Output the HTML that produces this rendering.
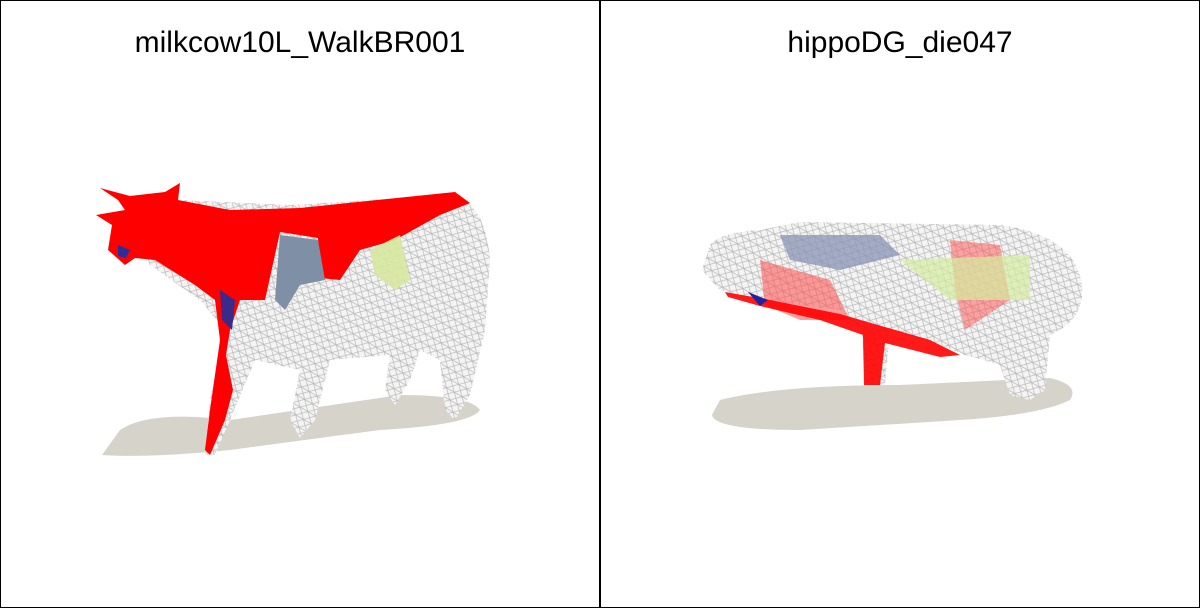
<!DOCTYPE html>
<html><head><meta charset="utf-8"><style>
html,body{margin:0;padding:0;background:#fff;}
#wrap{position:relative;width:1200px;height:608px;overflow:hidden;}
.title{position:absolute;top:26px;font-family:"Liberation Sans",sans-serif;font-size:30px;color:#000;text-align:center;width:600px;}
</style></head><body>
<div id="wrap">
<svg width="1200" height="608" style="position:absolute;left:0;top:0">
<defs>
<pattern id="mesh" width="9" height="9" patternUnits="userSpaceOnUse" patternTransform="rotate(30)">
<rect width="9" height="9" fill="#f4f4f4"/>
<path d="M0 0L9 9M9 0L0 9M0 4.5H9" stroke="#b8b8b8" stroke-width="0.7"/>
</pattern>
</defs>
<rect x="0.5" y="0.5" width="1199" height="607" fill="none" stroke="#000" stroke-width="1"/>
<line x1="600" y1="0" x2="600" y2="608" stroke="#000" stroke-width="2"/>

<g>
<path d="M120 430 Q150 410 230 420 L400 395 Q470 395 480 410 Q470 425 380 430 L230 450 Q150 458 102 455 Z" fill="#d6d3cb"/>
<path d="M130 230 L180 200 L290 205 L450 195 Q485 200 490 260 L485 330 L470 395 L455 420 L445 410 L440 360 L420 350 L410 380 L395 405 L385 390 L390 355 L330 360 L315 420 L300 438 L290 420 L300 370 L255 360 L230 420 L215 455 L205 455 L210 400 L225 330 L200 300 L150 265 Z" fill="url(#mesh)"/>
<path d="M100 188 L130 196 L165 192 L180 183 L178 200 L230 210 L300 208 L455 192 L470 203 L440 215 L395 240 L360 250 L340 280 L320 278 L318 238 L280 232 L265 300 L240 300 L230 330 L226 355 L233 390 L225 420 L210 455 L205 450 L210 410 L220 340 L215 300 L195 285 L155 260 L135 258 L125 265 L108 250 L112 225 L96 215 L125 210 L118 200 Z" fill="#ff0000"/>
<path d="M280 235 L318 240 L325 280 L300 285 L285 310 L275 300 Z" fill="#7f8fa6"/>
<path d="M370 250 L400 235 L410 280 L395 290 L375 275 Z" fill="#d7e8a0" opacity="0.9"/>
<path d="M220 290 L235 300 L232 330 L222 320 Z" fill="#3a2a8a"/>
<path d="M118 245 L130 250 L126 258 L118 256 Z" fill="#2b2f9a"/>
</g>

<g>
<path d="M720 400 Q780 385 900 385 L1050 378 Q1080 385 1070 400 Q1040 415 960 420 L800 430 Q715 430 712 415 Z" fill="#d6d3cb"/>
<path d="M710 245 Q720 232 760 230 L800 222 L1000 225 Q1075 235 1082 285 Q1085 320 1050 335 L1045 390 L1030 400 L1010 395 L1000 365 L965 355 L940 345 L890 330 L885 385 L865 385 L862 330 L840 310 L760 300 L720 290 L702 270 Z" fill="url(#mesh)"/>
<path d="M780 235 L880 235 L900 255 L840 270 L790 260 Z" fill="#8a93b5" opacity="0.75"/>
<path d="M760 260 L830 280 L850 320 L800 320 L765 305 Z" fill="#ff4a4a" opacity="0.55"/>
<path d="M950 240 L1000 245 L1010 300 L965 330 L955 290 Z" fill="#ff5050" opacity="0.5"/>
<path d="M900 260 L1030 255 L1030 300 L950 300 Z" fill="#d4eca0" opacity="0.7"/>
<path d="M725 292 L770 300 L840 314 L930 340 L960 355 L940 357 L885 343 L880 385 L864 385 L863 335 L820 320 L760 306 L728 297 Z" fill="#ff0000" opacity="0.9"/>
<path d="M748 292 L768 300 L760 306 Z" fill="#2020a0"/>
</g>
</svg>
<div class="title" style="left:0">milkcow10L_WalkBR001</div>
<div class="title" style="left:600px">hippoDG_die047</div>
</div>
</body></html>
